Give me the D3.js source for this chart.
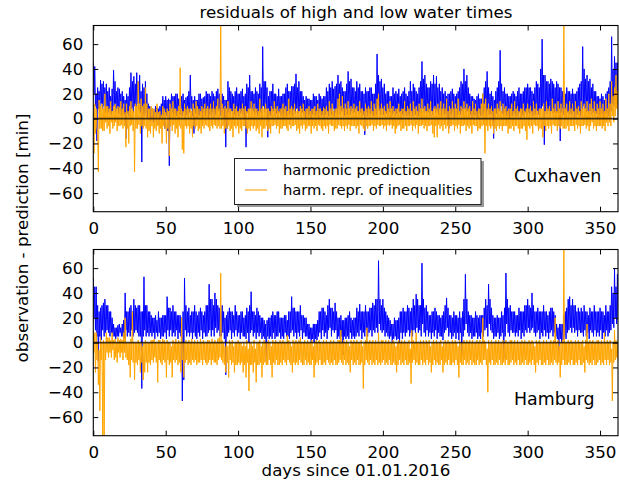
<!DOCTYPE html>
<html><head><meta charset="utf-8">
<script src="https://cdn.jsdelivr.net/npm/d3@7"></script>
<style>
html,body{margin:0;padding:0;background:#fff;}
svg{display:block;font-family:"DejaVu Sans",sans-serif;}
</style></head>
<body>
<svg id="c" width="619" height="482"></svg>
<script>
// ---- data: residuals per day (days 0..362), high-water (HW) and low-water (LW) values ----
// Cuxhaven, harmonic prediction
const cuxHarmonicHW = [
45,42,20,25,22,31,28,30,25,28, 22,25,18,24,39,30,22,25,24,20,
22,18,15,20,18,25,37,30,34,28, 37,30,35,22,28,25,30,20,12,10,
8,8,7,10,9,8,10,12,18,15, 18,15,16,15,20,18,18,20,20,16,
16,18,20,15,17,18,22,35,18,15, 18,15,15,20,20,16,17,18,22,20,
20,18,22,20,18,22,24,20,15,20, 18,15,15,30,25,22,20,18,22,25,
20,20,22,24,18,20,28,25,35,22, 22,20,25,22,20,28,25,58,30,30,
25,18,22,22,28,20,20,18,24,18, 18,20,20,25,28,22,22,26,26,28,
36,25,30,22,22,18,15,18,16,16, 15,15,20,18,18,15,20,18,16,18,
18,25,22,28,25,30,24,26,28,35, 28,30,25,22,22,28,38,30,32,25,
25,22,30,25,28,22,22,20,25,22, 22,25,25,20,20,28,52,35,30,32,
25,28,20,22,22,18,18,25,20,22, 20,24,18,20,22,25,20,18,22,30,
22,28,25,22,20,25,30,46,32,35, 28,25,25,30,28,35,28,34,25,28,
22,25,20,22,18,20,20,22,24,20, 18,20,22,25,30,28,40,30,35,25,
20,18,18,16,15,18,20,16,16,20, 25,30,38,25,20,22,18,15,22,25,
30,55,28,22,25,20,20,18,18,20, 22,20,18,22,25,20,20,22,25,25,
28,25,25,22,20,25,30,28,25,40, 64,35,35,30,30,28,32,30,28,25,
30,28,25,25,22,22,20,25,22,22, 20,24,20,20,22,25,28,30,58,40,
32,35,30,32,25,28,22,22,18,18, 16,20,18,15,20,22,25,30,66,40,
50,45,45];
const cuxHarmonicLW = [
20,10,-18,8,5,12,8,10,5,8, 5,8,3,6,10,5,8,4,6,2,
5,3,-16,4,2,5,8,4,10,6, 12,8,5,-35,3,2,5,0,2,-2,
0,-3,2,-2,3,-5,1,-3,2,-8, 2,-10,-38,3,5,2,4,2,5,0,
3,2,5,0,3,2,5,8,2,-12, 4,0,3,2,5,0,3,2,5,0,
3,2,5,0,3,5,6,2,3,5, -5,-23,-8,5,3,6,0,3,2,5,
2,4,5,3,0,-23,5,3,8,5, 6,3,5,2,4,5,0,10,5,8,
-15,3,2,5,6,2,4,0,5,2, 3,0,5,2,6,3,5,2,6,4,
8,4,6,2,5,3,0,4,2,3, 0,3,4,2,3,0,5,2,3,0,
3,5,2,6,3,8,2,5,3,8, 3,6,5,2,5,3,8,3,6,4,
5,2,6,3,5,2,3,-13,5,2, 4,3,5,2,4,3,10,6,3,8,
3,5,4,2,5,0,3,5,2,4, 2,5,0,3,2,5,2,3,2,6,
2,5,3,4,2,5,3,8,4,6, 3,5,2,6,3,8,5,6,3,5,
2,5,3,4,0,-8,3,2,5,0, 3,2,5,3,6,3,8,5,6,2,
3,0,3,2,3,0,4,2,3,2, 5,2,6,3,4,2,-16,3,4,2,
6,10,4,2,5,2,3,0,3,2, 4,2,3,2,5,0,3,2,5,3,
5,3,5,2,4,3,6,3,5,8, 10,-21,6,4,6,3,6,4,5,2,
5,4,-18,5,3,4,2,5,3,4, 2,5,0,3,3,5,2,6,10,8,
5,6,4,6,3,5,2,4,0,3, 2,4,0,3,4,2,5,6,12,10,
15,12,10];
// Cuxhaven, harmonic representation of inequalities
const cuxInequalHW = [
5,12,8,-10,15,10,12,8,20,10, 10,8,14,6,10,12,8,10,9,14,
8,12,5,12,6,10,14,8,6,12, 10,30,12,16,10,12,25,12,8,8,
10,8,8,5,12,5,6,3,10,8, 5,8,6,12,8,14,8,8,6,10,
41,8,6,12,8,10,8,8,6,12, 8,14,10,8,6,10,8,12,8,10,
8,12,8,14,8,10,16,8,80,12, 8,10,8,14,8,8,6,12,8,10,
6,8,8,12,8,10,6,8,8,14, 8,12,8,8,6,16,8,10,8,12,
8,8,6,10,8,14,8,10,6,8, 8,12,8,10,6,16,8,10,8,12,
6,8,6,10,8,12,6,8,8,10, 6,8,8,10,6,12,8,8,6,9,
8,10,6,14,8,12,6,8,8,16, 20,10,18,8,12,8,14,8,10,8,
12,8,10,6,14,8,8,6,12,8, 10,8,14,6,12,8,16,20,8,12,
8,10,6,12,8,14,8,10,6,8, 8,12,6,8,8,14,6,10,8,12,
6,14,8,10,6,12,8,16,8,10, 6,12,8,14,6,8,10,8,12,8,
14,8,12,8,16,6,10,8,14,8, 12,8,16,6,10,8,14,8,12,8,
10,6,14,8,12,6,8,8,12,20, 12,16,8,12,8,10,6,8,8,12,
8,14,6,12,8,10,6,8,8,12, 6,14,8,10,6,8,8,12,6,8,
12,8,10,6,14,8,12,6,8,8, 8,12,6,14,8,10,6,16,8,12,
6,14,8,12,8,80,8,12,6,14, 8,12,6,14,8,10,6,14,8,12,
8,14,6,12,16,8,14,6,12,8, 14,8,12,6,16,8,20,12,30,18,
25,35,22];
const cuxInequalLW = [
-28,-12,-8,-43,-8,-8,-10,-10,-3,-8, -6,-12,-3,-8,-6,-3,-10,-6,-6,-5,
-8,-6,-23,-8,-20,-6,-5,-10,-43,-8, -8,-5,-12,-6,-8,-6,-8,-15,-10,-12,
-6,-15,-8,-10,-6,-12,-8,-20,-6,-8, -20,-8,-30,-6,-10,-5,-12,-8,-15,-6,
-8,-25,-28,-6,-8,-6,-12,-8,-15,-6, -8,-6,-10,-8,-12,-6,-8,-5,-6,-7,
-10,-6,-8,-5,-6,-8,-6,-8,-8,-6, -12,-8,-8,-6,-10,-8,-15,-6,-8,-6,
-12,-8,-10,-6,-6,-8,-12,-8,-10,-6, -8,-6,-10,-8,-12,-6,-15,-8,-8,-6,
-10,-8,-12,-6,-6,-5,-8,-6,-12,-8, -8,-6,-6,-8,-10,-5,-8,-6,-6,-5,
-10,-8,-12,-6,-8,-5,-10,-8,-6,-6, -12,-6,-8,-6,-10,-5,-6,-8,-10,-6,
-8,-6,-12,-5,-6,-6,-10,-8,-8,-5, -6,-8,-6,-10,-6,-8,-5,-10,-6,-6,
-6,-8,-6,-12,-5,-6,-8,-10,-6,-8, -6,-6,-5,-10,-6,-8,-5,-6,-6,-5,
-8,-6,-10,-5,-6,-5,-8,-6,-12,-8, -6,-5,-10,-8,-8,-6,-10,-6,-6,-5,
-10,-6,-8,-5,-12,-6,-6,-5,-8,-6, -10,-6,-6,-5,-12,-15,-6,-15,-5,-8,
-6,-10,-5,-8,-6,-12,-6,-6,-5,-10, -6,-8,-5,-12,-6,-6,-5,-10,-6,-8,
-6,-12,-5,-6,-6,-10,-8,-8,-6,-5, -28,-6,-10,-6,-8,-6,-12,-8,-10,-6,
-8,-6,-10,-6,-6,-6,-12,-8,-8,-6, -10,-6,-6,-8,-12,-8,-8,-6,-10,-17,
-6,-8,-6,-12,-5,-6,-6,-10,-8,-8, -15,-6,-10,-6,-8,-6,-12,-5,-6,-6,
-10,-6,-8,-6,-8,-8,-8,-6,-10,-6, -6,-6,-10,-5,-8,-6,-12,-6,-6,-5,
-8,-6,-10,-6,-3,-8,-6,-10,-6,-6, -6,-8,-6,-10,-3,-6,-3,-6,2,-3,
2,8,2];
// Hamburg, harmonic prediction
const hamHarmonicHW = [
52,45,45,30,25,28,30,32,35,30, 30,25,25,20,15,12,12,14,15,12,
15,18,40,25,25,28,30,25,35,30, 28,30,30,25,25,53,30,30,25,25,
22,20,20,22,18,25,20,20,22,22, 22,37,28,28,25,30,25,25,22,22,
22,20,25,52,30,25,28,22,25,25, 30,25,22,25,28,25,22,25,30,30,
47,35,35,30,40,35,30,28,25,30, 25,20,22,25,28,25,25,22,30,25,
22,22,25,25,20,22,28,25,30,41, 25,25,22,28,25,22,20,20,18,15,
18,20,20,22,25,22,22,25,25,20, 20,20,22,22,18,25,25,37,28,28,
25,25,25,30,22,22,20,20,15,15, 12,12,15,15,15,18,25,25,28,28,
25,22,30,35,28,28,25,32,25,20, 20,22,18,18,20,20,22,25,20,18,
20,20,28,25,31,25,25,25,30,25, 25,28,28,32,30,35,35,66,35,30,
35,28,25,22,20,18,15,15,20,18, 18,20,25,25,28,25,25,30,28,25,
28,35,30,39,35,30,30,64,35,28, 30,25,22,22,25,25,28,25,22,22,
20,22,25,30,36,28,22,22,20,25, 22,22,20,25,20,25,35,55,35,25,
22,22,20,20,25,22,20,22,22,22, 28,35,30,47,35,28,22,20,20,22,
20,20,25,22,28,56,35,28,30,25, 25,25,22,22,28,25,25,25,30,30,
35,30,28,40,30,25,25,28,25,25, 25,30,25,25,22,25,28,28,25,22,
15,12,15,15,15,22,25,28,35,37, 30,35,30,30,25,28,25,28,25,30,
25,25,22,28,25,25,30,25,25,25, 28,25,25,22,30,25,25,30,45,40,
60,45,55];
const hamHarmonicLW = [
20,10,5,-15,5,2,10,5,8,10, 8,5,8,5,5,3,5,5,8,5,
5,3,10,5,8,5,10,5,8,10, 8,5,5,-37,5,10,5,8,5,8,
5,8,3,8,5,8,3,5,5,8, 3,10,5,10,5,8,5,10,3,8,
5,-47,-30,10,5,8,5,8,3,8, 5,3,8,5,10,3,8,5,5,8,
10,5,10,5,12,8,10,5,5,8, 3,-26,5,8,10,3,8,5,10,5,
8,3,8,5,5,3,8,0,8,10, 5,8,3,8,5,8,3,5,3,-15,
5,3,5,3,8,3,5,5,8,3, 5,3,8,5,5,3,8,10,5,8,
3,8,5,10,3,8,5,5,3,3, 0,3,0,3,2,5,8,3,10,5,
8,3,10,12,5,10,8,10,3,5, 3,5,-10,5,3,5,3,8,3,5,
3,5,8,5,10,3,8,5,10,5, 8,10,5,10,8,12,8,15,10,8,
10,5,8,5,3,5,0,3,5,2, 3,0,8,3,8,5,8,10,5,8,
5,10,8,12,8,10,5,15,8,5, 10,5,8,3,8,5,10,3,8,5,
5,2,8,10,12,5,8,3,5,8, 3,8,2,8,-10,5,10,15,8,5,
8,3,5,5,8,3,5,3,8,5, 10,12,5,15,10,8,3,5,5,8,
3,5,8,-13,5,15,8,5,10,8, 8,5,8,5,10,3,8,5,10,8,
12,8,10,12,8,5,8,10,3,8, 5,10,5,8,3,8,10,5,8,5,
3,-10,3,0,2,5,3,8,10,12, 8,12,8,10,5,10,8,8,5,10,
5,8,3,10,8,5,10,5,8,5, 10,3,8,5,10,5,8,10,15,12,
20,15,18];
// Hamburg, harmonic representation of inequalities
const hamInequalHW = [
10,8,8,0,-6,4,0,2,0,8, 4,4,2,8,2,3,0,4,2,3,
2,8,20,0,0,0,3,25,0,0, 0,2,0,0,-3,0,2,0,0,0,
2,2,3,0,0,2,2,0,3,2, 0,2,0,0,-3,2,0,3,0,2,
0,20,0,0,2,0,2,0,3,0, 2,0,2,0,3,0,2,0,0,2,
2,0,3,0,2,0,3,4,56,2, 0,-3,0,-3,2,0,2,-3,0,0,
2,0,0,-3,0,-3,2,-5,0,0, -3,2,-5,0,0,2,-3,0,2,0,
0,2,0,-3,2,0,2,0,0,2, 0,2,0,0,6,2,0,-3,2,0,
2,0,2,4,0,0,2,0,2,0, 0,2,-3,0,2,0,2,0,0,2,
0,2,0,0,2,0,2,0,0,2, 2,10,0,2,0,2,0,-3,2,0,
2,0,2,0,0,2,-3,0,2,12, 0,2,0,2,0,2,0,8,0,2,
2,0,2,0,2,0,0,2,0,-3, 0,2,0,2,0,2,0,0,2,-5,
10,2,0,8,0,0,2,0,2,0, 2,0,2,-3,0,2,0,2,0,0,
2,-3,0,2,0,2,0,0,2,0, 2,0,-3,2,0,0,2,0,2,0,
2,0,2,0,0,2,0,2,0,20, 2,0,-5,2,0,2,0,0,2,0,
2,0,0,2,0,2,0,0,2,2, 0,2,0,2,0,0,2,0,2,0,
0,2,0,2,0,-3,2,0,2,0, 0,2,0,2,0,0,2,0,2,20,
0,2,-3,0,2,80,0,0,2,0, 2,0,0,2,0,2,0,0,2,-3,
2,15,0,2,0,2,0,0,2,2, 0,2,0,8,0,2,0,2,-5,0,
10,2,0];
const hamInequalLW = [
-8,-24,-14,-34,-55,-14,-78,-80,-14,-8, -12,-8,-12,-6,-14,-12,-16,-8,-12,-8,
-14,-8,-12,-14,-18,-28,-14,-16,-30,-16, -18,-14,-24,-16,-30,-24,-16,-24,-16,-18,
-14,-16,-12,-16,-32,-14,-16,-18,-14,-16, -28,-14,-18,-16,-28,-14,-16,-14,-18,-16,
-24,-14,-28,-16,-14,-18,-16,-18,-14,-16, -14,-18,-16,-16,-14,-18,-14,-16,-18,-16,
-14,-18,-14,-16,-16,-18,-14,-12,-14,-16, -18,-24,-16,-28,-14,-18,-16,-24,-18,-18,
-16,-18,-16,-24,-18,-28,-16,-39,-18,-18, -24,-16,-32,-18,-18,-16,-28,-18,-16,-18,
-18,-14,-18,-28,-16,-18,-14,-18,-18,-16, -18,-14,-16,-18,-14,-16,-18,-24,-16,-18,
-16,-18,-14,-16,-18,-18,-14,-18,-16,-18, -18,-14,-28,-18,-16,-18,-14,-18,-18,-16,
-18,-14,-16,-18,-16,-18,-14,-18,-18,-16, -14,-16,-18,-14,-18,-16,-18,-24,-14,-18,
-16,-18,-14,-18,-18,-16,-37,-18,-14,-16, -18,-14,-18,-16,-18,-14,-18,-16,-18,-16,
-14,-18,-16,-18,-14,-18,-18,-16,-18,-24, -18,-14,-18,-16,-18,-14,-18,-18,-16,-33,
-16,-14,-18,-16,-18,-18,-14,-18,-16,-18, -14,-18,-16,-24,-18,-14,-18,-16,-18,-18,
-14,-24,-18,-16,-18,-14,-18,-18,-16,-18, -14,-18,-28,-16,-18,-18,-14,-18,-16,-18,
-14,-18,-16,-18,-18,-14,-18,-16,-18,-14, -14,-18,-40,-16,-18,-14,-18,-18,-16,-18,
-14,-18,-18,-16,-18,-14,-18,-18,-16,-14, -18,-16,-18,-14,-18,-18,-16,-18,-14,-18,
-18,-16,-18,-14,-18,-24,-16,-18,-14,-18, -18,-16,-18,-14,-18,-18,-16,-18,-14,-16,
-18,-16,-28,-18,-14,-18,-18,-18,-16,-18, -14,-18,-18,-16,-18,-14,-18,-18,-16,-24,
-14,-16,-18,-16,-18,-14,-18,-18,-16,-14, -18,-16,-18,-14,-18,-14,-18,-16,-47,-16,
-14,-12,-16];
const xTicks = [0,50,100,150,200,250,300,350];
const yTicks = [-60,-40,-20,0,20,40,60];
const stations = ["Cuxhaven","Hamburg"];
const seriesNames = ["harmonic prediction","harm. repr. of inequalities"];
const colors = ["#0000ff","#ffa500"];

// interleave HW (day d) and LW (day d+0.5) into one time series
const interleave = (hw, lw) => hw.flatMap((v,d)=>[[d,v],[d+0.5,lw[d]]]);

// ---- drawing ----
const svg = d3.select("#c");
const L = 93.3, R = 618;
const panels = [
  {top:25.5, bottom:211.7, a:interleave(cuxHarmonicHW,cuxHarmonicLW), b:interleave(cuxInequalHW,cuxInequalLW), name:stations[0], nameY:182},
  {top:249.5, bottom:435.7, a:interleave(hamHarmonicHW,hamHarmonicLW), b:interleave(hamInequalHW,hamInequalLW), name:stations[1], nameY:405}
];
const x = d3.scaleLinear().domain([0,362.4]).range([L,R]);
const fmt = d => d<0 ? "\u2212"+Math.abs(d) : String(d);

panels.forEach((p,i)=>{
  const y = d3.scaleLinear().domain([-75,75]).range([p.bottom,p.top]);
  const g = svg.append("g");
  const cid = "clip"+i;
  svg.append("clipPath").attr("id",cid).append("rect")
    .attr("x",L).attr("y",p.top).attr("width",R-L).attr("height",p.bottom-p.top);
  const line = d3.line().x(d=>x(d[0])).y(d=>y(d[1]));
  const pg = g.append("g").attr("clip-path",`url(#${cid})`);
  pg.append("path").datum(p.a).attr("d",line).attr("fill","none")
    .attr("stroke",colors[0]).attr("stroke-width",1);
  pg.append("path").datum(p.b).attr("d",line).attr("fill","none")
    .attr("stroke",colors[1]).attr("stroke-width",1);
  pg.append("line").attr("x1",L).attr("x2",R).attr("y1",y(0)).attr("y2",y(0))
    .attr("stroke","#000").attr("stroke-width",1.6).attr("opacity",0.75);

  const ax = (axis)=>axis.tickSizeInner(-5).tickSizeOuter(0);
  const bx = g.append("g").attr("transform",`translate(0,${p.bottom})`)
    .call(ax(d3.axisBottom(x).tickValues(xTicks).tickFormat(d3.format("d"))).tickPadding(10));
  const tx = g.append("g").attr("transform",`translate(0,${p.top})`)
    .call(ax(d3.axisTop(x).tickValues(xTicks)).tickFormat(""));
  const ly = g.append("g").attr("transform",`translate(${L},0)`)
    .call(ax(d3.axisLeft(y).tickValues(yTicks).tickFormat(fmt)).tickPadding(10));
  const ry = g.append("g").attr("transform",`translate(${R},0)`)
    .call(ax(d3.axisRight(y).tickValues(yTicks)).tickFormat(""));
  [bx,tx,ly,ry].forEach(s=>{
    s.select(".domain").remove();
    s.selectAll("line").attr("stroke","#000").attr("stroke-width",1);
    s.selectAll("text").attr("fill","#000").style("font-size","16.7px")
      .style("font-family","DejaVu Sans");
  });
  g.append("rect").attr("x",L).attr("y",p.top).attr("width",R-L).attr("height",p.bottom-p.top)
    .attr("fill","none").attr("stroke","#000").attr("stroke-width",1.1);

  g.append("text").attr("x",514).attr("y",p.nameY).text(p.name)
    .style("font-size","17.4px").attr("fill","#000");
});

// legend in top panel
const lg = svg.append("g");
lg.append("rect").attr("x",237).attr("y",161).attr("width",247).attr("height",46).attr("fill","#555").attr("opacity",0.6);
lg.append("rect").attr("x",234.5).attr("y",158.5).attr("width",246.5).attr("height",46)
  .attr("fill","#fff").attr("stroke","#222").attr("stroke-width",1);
seriesNames.forEach((n,i)=>{
  const yy = 170 + i*20;
  lg.append("line").attr("x1",245).attr("x2",267).attr("y1",yy).attr("y2",yy)
    .attr("stroke",colors[i]).attr("stroke-width",1.1);
  lg.append("text").attr("x",283).attr("y",yy+5).text(n).style("font-size","14.7px").attr("fill","#000");
});

// title and axis labels
svg.append("text").attr("x",356).attr("y",18).attr("text-anchor","middle")
  .text("residuals of high and low water times").style("font-size","16.7px");
svg.append("text").attr("x",356).attr("y",476).attr("text-anchor","middle")
  .text("days since 01.01.2016").style("font-size","16.7px");
svg.append("text").attr("transform","translate(28,238) rotate(-90)").attr("text-anchor","middle")
  .text("observation - prediction [min]").style("font-size","16.7px");
</script>
</body></html>
